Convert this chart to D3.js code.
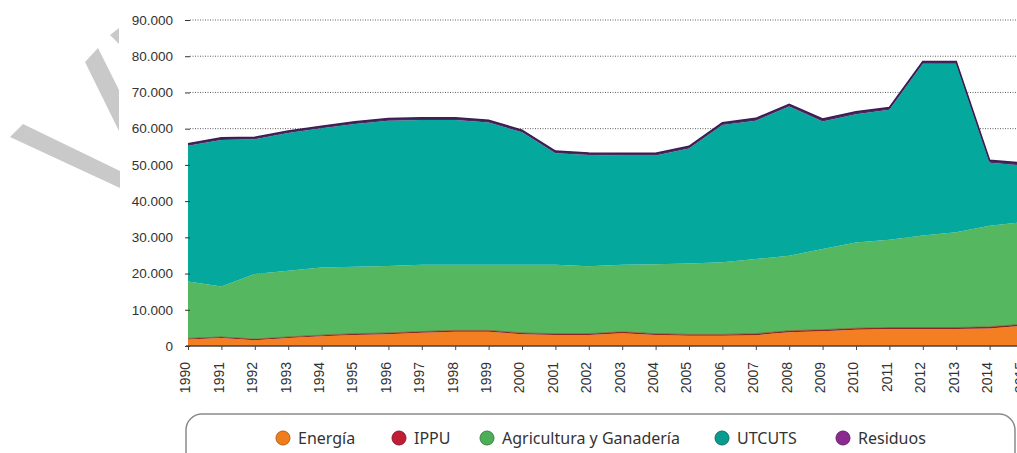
<!DOCTYPE html>
<html>
<head>
<meta charset="utf-8">
<script src="https://cdn.jsdelivr.net/npm/d3@7"></script>
<style>
  html, body { margin: 0; padding: 0; background: #fff; }
  svg { display: block; font-family: "Noto Sans", "Open Sans", sans-serif; }
</style>
</head>
<body>
<svg id="chart" width="1017" height="453"></svg>
<script>
// Emisiones por sector, 1990-2015
const years = d3.range(1990, 2016);
const seriesNames = ['Energía', 'IPPU', 'Agricultura y Ganadería', 'UTCUTS', 'Residuos'];

const energia = [1800, 2200, 1600, 2200, 2700, 3050, 3250, 3650, 3950, 3950, 3250, 3050, 3050,
                 3550, 3050, 2850, 2800, 3000, 3800, 4100, 4500, 4700, 4700, 4700, 4850, 5550];
const ippu = [300, 300, 300, 300, 300, 350, 350, 350, 350, 350, 350, 350, 350,
              350, 350, 350, 400, 400, 400, 400, 400, 400, 400, 400, 450, 450];
const agricultura = [15700, 13900, 18000, 18300, 18700, 18500, 18500, 18400, 18100, 18100, 18800, 19000, 18600,
                     18500, 19200, 19600, 19900, 20600, 20700, 22300, 23700, 24200, 25400, 26300, 27900, 28200];
const utcuts = [37500, 40500, 37200, 38000, 38400, 39400, 40100, 40000, 40000, 39300, 36600, 30800, 30700,
                30200, 30000, 31700, 37900, 38200, 41200, 35200, 35400, 35900, 47400, 46500, 17400, 15600];
const residuos = [550, 550, 550, 560, 570, 580, 590, 600, 600, 600, 600, 600, 600,
                  610, 610, 620, 620, 630, 640, 640, 650, 650, 660, 660, 670, 680];

const yTicks = [0, 10000, 20000, 30000, 40000, 50000, 60000, 70000, 80000, 90000];

const COLORS = {
  'Energía': '#f47f22',
  'IPPU': '#8e2323',
  'Agricultura y Ganadería': '#55b75f',
  'UTCUTS': '#05a89d',
  'Residuos': '#4a2a63'
};
const LEGEND_COLORS = {
  'Energía': '#ef7d1c',
  'IPPU': '#c01e35',
  'Agricultura y Ganadería': '#4caf58',
  'UTCUTS': '#0a9a8e',
  'Residuos': '#8b2a8f'
};

const svg = d3.select('#chart');
const W = 1017, H = 453;

// Watermark shapes behind the chart (grey bands at top-left)
const marks = svg.append('g').attr('fill', '#c9c9c9');
[
  [[23, 124], [120, 171], [120, 188], [10, 137]],
  [[85, 62], [98, 48], [119, 90], [119, 131]],
  [[110, 35], [119, 28], [119, 44]]
].forEach(p => marks.append('polygon').attr('points', p.map(d => d.join(',')).join(' ')));

// Scales (2015 falls just past the right edge, as in the original)
const x = d3.scaleLinear().domain([1990, 2015]).range([188, 1023]);
const y = d3.scaleLinear().domain([0, 90000]).range([346, 20]);

// Gridlines (dotted)
svg.append('g')
  .selectAll('line')
  .data(yTicks.filter(d => d > 0))
  .enter().append('line')
  .attr('x1', 190).attr('x2', W)
  .attr('y1', d => y(d)).attr('y2', d => y(d))
  .attr('stroke', '#5e5e5e')
  .attr('stroke-width', 1)
  .attr('stroke-dasharray', '1,1.5');

// Stacked areas
const table = years.map((yr, i) => ({
  year: yr,
  'Energía': energia[i],
  'IPPU': ippu[i],
  'Agricultura y Ganadería': agricultura[i],
  'UTCUTS': utcuts[i],
  'Residuos': residuos[i]
}));
const stack = d3.stack().keys(seriesNames)(table);

const area = d3.area()
  .x(d => x(d.data.year))
  .y0(d => y(d[0]))
  .y1(d => y(d[1]));

svg.append('g')
  .selectAll('path')
  .data(stack)
  .enter().append('path')
  .attr('d', area)
  .attr('fill', d => COLORS[d.key]);

// Outline on top of the total
const topLine = d3.line()
  .x(d => x(d.data.year))
  .y(d => y(d[1]));
svg.append('path')
  .datum(stack[stack.length - 1])
  .attr('d', topLine)
  .attr('fill', 'none')
  .attr('stroke', '#3a1d52')
  .attr('stroke-width', 1.6);

// Thin boundary line between energy and agriculture (IPPU)
svg.append('path')
  .datum(stack[1])
  .attr('d', topLine)
  .attr('fill', 'none')
  .attr('stroke', '#9a3a1c')
  .attr('stroke-width', 0.8)
  .attr('opacity', 0.8);

// Y axis
const yAxis = svg.append('g')
  .attr('transform', 'translate(190,0)')
  .call(d3.axisLeft(y)
    .tickValues(yTicks)
    .tickSize(5)
    .tickPadding(12)
    .tickFormat(d => d === 0 ? '0' : d3.format(',')(d).replace(/,/g, '.')));
yAxis.select('.domain').remove();
yAxis.selectAll('line').attr('stroke', '#333');
yAxis.selectAll('text')
  .attr('fill', '#333')
  .attr('font-size', 13.5);

// X axis
const xAxis = svg.append('g')
  .attr('transform', `translate(0,${y(0)})`)
  .call(d3.axisBottom(x)
    .tickValues(years)
    .tickSize(4)
    .tickFormat(d3.format('d')));
xAxis.select('.domain')
  .attr('d', `M186,0H${W}`)
  .attr('stroke', '#444')
  .attr('stroke-width', 1.5);
xAxis.selectAll('line').attr('stroke', '#444');
xAxis.selectAll('text')
  .attr('fill', '#333')
  .attr('font-size', 14)
  .attr('text-anchor', 'end')
  .attr('transform', 'rotate(-90)')
  .attr('x', -16)
  .attr('y', -3)
  .attr('dy', '0.35em');

// Legend box
svg.append('rect')
  .attr('x', 186).attr('y', 414)
  .attr('width', 829).attr('height', 70)
  .attr('rx', 16).attr('ry', 16)
  .attr('fill', '#fff')
  .attr('stroke', '#8a8a8a')
  .attr('stroke-width', 1.5);

const legendX = [283, 399, 487, 722, 843];
const legend = svg.append('g')
  .selectAll('g')
  .data(seriesNames)
  .enter().append('g')
  .attr('transform', (d, i) => `translate(${legendX[i]},438)`);

legend.append('circle')
  .attr('r', 7)
  .attr('fill', d => LEGEND_COLORS[d])
  .attr('stroke', d => d3.color(LEGEND_COLORS[d]).darker(0.8))
  .attr('stroke-width', 1);

legend.append('text')
  .attr('x', 15)
  .attr('dy', '0.35em')
  .attr('font-size', 16)
  .attr('fill', '#333')
  .text(d => d);
</script>
</body>
</html>
